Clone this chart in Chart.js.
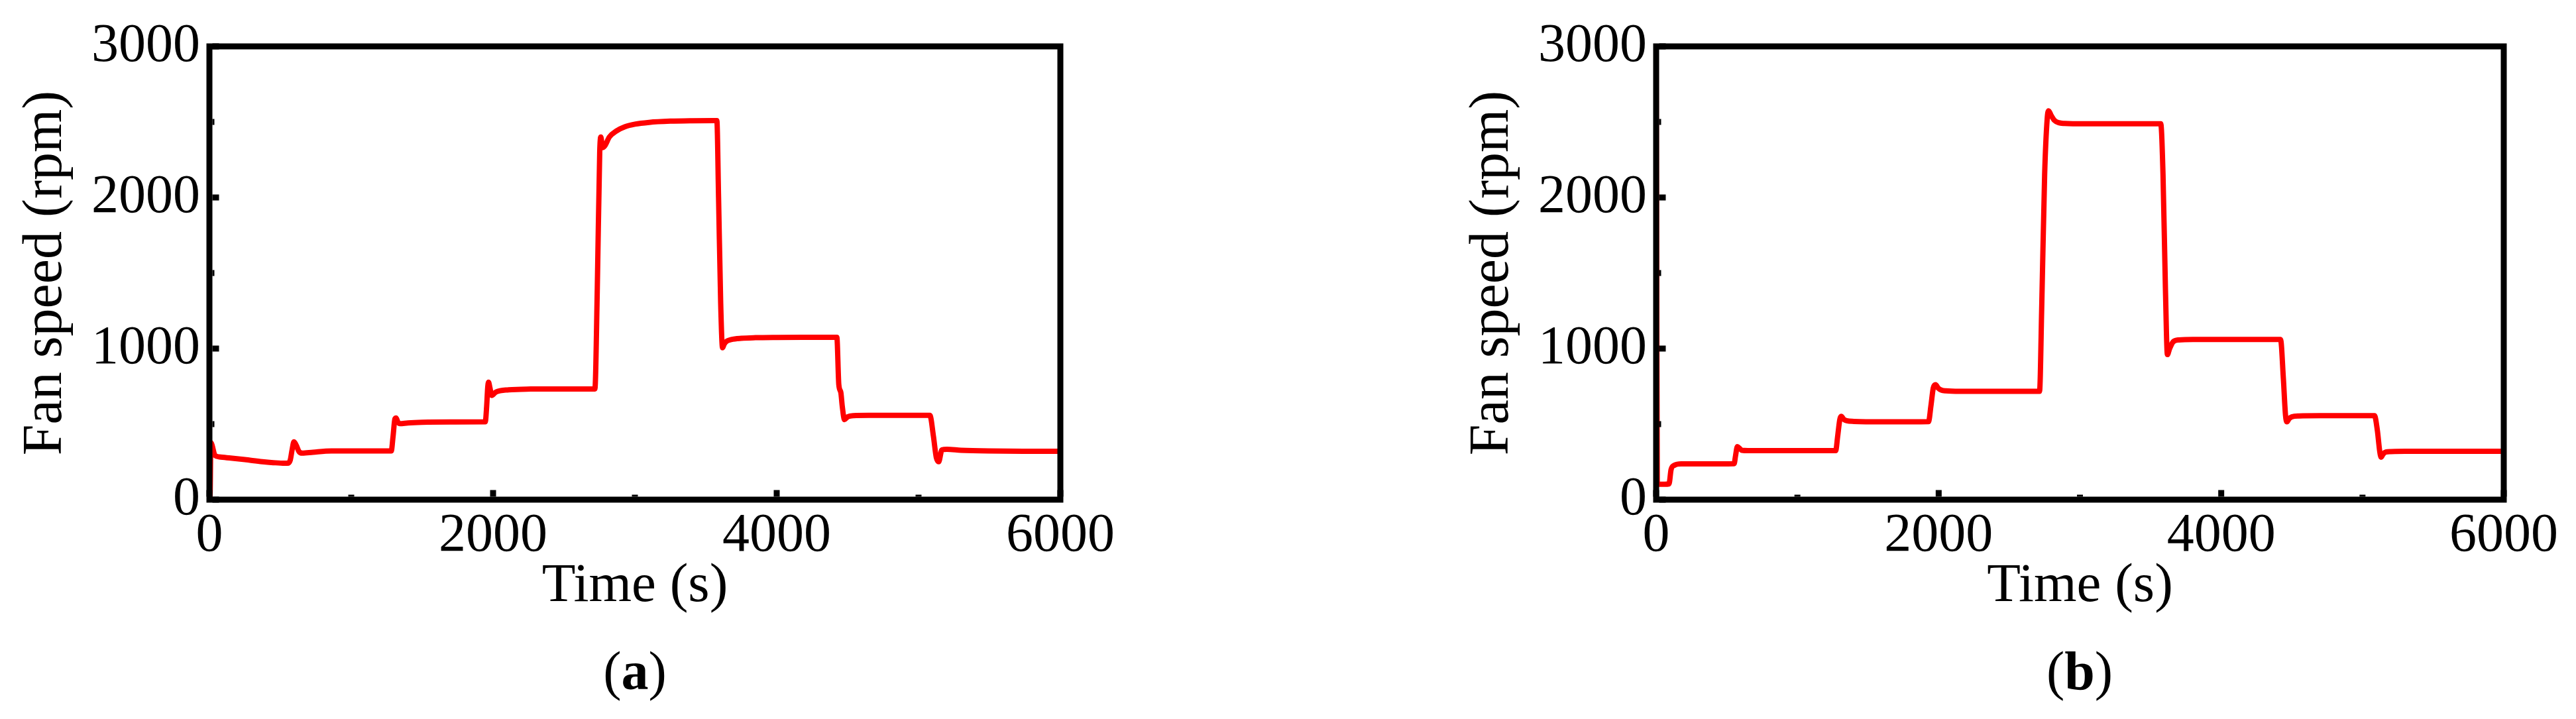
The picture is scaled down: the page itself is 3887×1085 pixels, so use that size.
<!DOCTYPE html>
<html>
<head>
<meta charset="utf-8">
<script src="https://cdn.jsdelivr.net/npm/chart.js@4.4.1/dist/chart.umd.min.js"></script>
<style>
  html, body { margin: 0; padding: 0; background: #fff; overflow: hidden; }
  #wrap { position: relative; width: 3887px; height: 1085px; }
  canvas { position: absolute; top: 0; }
  .cap {
    position: absolute; top: 972px; width: 400px; text-align: center;
    font-family: "Liberation Serif", "Times New Roman", serif;
    font-size: 82px; line-height: 82px; color: #000;
  }
</style>
</head>
<body>
<div id="wrap">
  <canvas id="chartA" width="1943" height="1085" style="left:0px"></canvas>
  <canvas id="chartB" width="1704" height="1085" style="left:2183px"></canvas>
  <div class="cap" style="left:758px">(<b>a</b>)</div>
  <div class="cap" style="left:2938px">(<b>b</b>)</div>
</div>
<script>
// panel (a): fan speed over time
const timeA = [0, 5, 10, 40, 70, 150, 250, 374, 450, 530, 550, 570, 583, 596, 612, 632, 655, 730, 860, 1000,
  1150, 1282, 1295, 1308, 1316, 1328, 1343, 1400, 1500, 1700, 1945, 1955, 1962, 1968, 1978, 1990, 2020, 2110, 2265, 2500,
  2718, 2735, 2752, 2760, 2772, 2790, 2820, 2870, 2930, 3000, 3100, 3250, 3400, 3578, 3590, 3605, 3618, 3630, 3650, 3680,
  3750, 3850, 4000, 4200, 4424, 4438, 4452, 4462, 4478, 4500, 4540, 4650, 4850, 5080, 5105, 5125, 5142, 5165, 5200, 5300,
  5500, 5750, 6000];
const speedA = [0, 40, 377, 292, 283, 275, 265, 251, 245, 241, 241, 262, 330, 383, 360, 318, 308, 314, 322, 322,
  322, 322, 420, 535, 541, 515, 503, 508, 512, 514, 515, 620, 740, 777, 740, 690, 712, 727, 732, 733,
  733, 1400, 2300, 2400, 2330, 2345, 2400, 2440, 2468, 2485, 2497, 2505, 2508, 2509, 2000, 1300, 1005, 1030, 1050, 1060,
  1068, 1072, 1074, 1075, 1075, 760, 710, 620, 530, 548, 556, 558, 558, 558, 420, 280, 251, 330, 333, 327,
  322, 320, 320];

// panel (b)
const timeB = [0, 4, 8, 20, 60, 91, 106, 130, 177, 300, 450, 552, 562, 575, 590, 607, 650, 800, 1000, 1271,
  1285, 1300, 1310, 1330, 1349, 1400, 1600, 1800, 1928, 1945, 1962, 1978, 1995, 2020, 2050, 2150, 2400, 2714, 2730, 2750,
  2768, 2778, 2795, 2820, 2850, 2890, 2950, 3100, 3300, 3572, 3588, 3605, 3619, 3635, 3660, 3700, 3800, 4000, 4200, 4420,
  4440, 4455, 4465, 4480, 4500, 4550, 4700, 4900, 5085, 5105, 5122, 5132, 5145, 5165, 5200, 5300, 5500, 5750, 6000];
const speedB = [3000, 1500, 110, 102, 102, 104, 200, 228, 237, 237, 237, 238, 290, 351, 340, 327, 325, 325, 325, 325,
  420, 530, 551, 530, 522, 518, 515, 515, 516, 620, 740, 761, 740, 725, 720, 717, 717, 717, 1300, 2150,
  2520, 2574, 2545, 2510, 2495, 2490, 2488, 2488, 2488, 2488, 2150, 1400, 960, 1000, 1045, 1057, 1060, 1060, 1060, 1060,
  800, 560, 515, 535, 548, 554, 556, 556, 556, 460, 320, 281, 300, 315, 318, 320, 320, 320, 320];

const xMajor = [0, 2000, 4000, 6000];
const xMinor = [1000, 3000, 5000];
const yMajor = [0, 1000, 2000, 3000];
const yMinor = [500, 1500, 2500];

const serif = "'Liberation Serif', 'Times New Roman', serif";

// box around the plot plus small inward ticks
const framePlugin = {
  id: "frame",
  afterDatasetsDraw(chart) {
    const { ctx, chartArea: a, scales } = chart;
    const half = 4.5;
    ctx.save();
    ctx.strokeStyle = "#000";
    ctx.fillStyle = "#000";
    ctx.lineWidth = 9;
    ctx.lineJoin = "miter";
    ctx.strokeRect(a.left, a.top, a.right - a.left, a.bottom - a.top);
    xMajor.forEach((v) => {
      const px = scales.x.getPixelForValue(v);
      ctx.fillRect(px - half, a.bottom - half - 10, 9, 10);
    });
    xMinor.forEach((v) => {
      const px = scales.x.getPixelForValue(v);
      ctx.fillRect(px - half, a.bottom - half - 3, 9, 3);
    });
    yMajor.forEach((v) => {
      const py = scales.y.getPixelForValue(v);
      ctx.fillRect(a.left + half, py - half, 10, 9);
    });
    yMinor.forEach((v) => {
      const py = scales.y.getPixelForValue(v);
      ctx.fillRect(a.left + half, py - half, 3, 9);
    });
    ctx.restore();
  },
};

function createSpeedChart(canvas, times, speeds, padRight) {
  const points = times.map((t, i) => ({ x: t, y: speeds[i] }));
  return new Chart(canvas, {
    type: "line",
    data: {
      datasets: [
        {
          label: "Fan speed",
          data: points,
          borderColor: "#ff0000",
          borderWidth: 8,
          pointRadius: 0,
          cubicInterpolationMode: "monotone",
          borderJoinStyle: "round",
          borderCapStyle: "round",
          fill: false,
        },
      ],
    },
    options: {
      responsive: false,
      animation: false,
      events: [],
      layout: { padding: { left: 0, top: 70, right: padRight, bottom: 0 } },
      plugins: { legend: { display: false }, tooltip: { enabled: false } },
      scales: {
        x: {
          type: "linear",
          min: 0,
          max: 6000,
          afterFit: (scale) => { scale.height = 331; },
          grid: { display: false, drawTicks: false },
          border: { display: false },
          ticks: {
            stepSize: 2000,
            padding: 6,
            color: "#000",
            maxRotation: 0,
            font: { family: serif, size: 82 },
            callback: (v) => String(v),
          },
          title: {
            display: true,
            text: "Time (s)",
            color: "#000",
            font: { family: serif, size: 83 },
            padding: { top: 0, bottom: 150 },
          },
        },
        y: {
          type: "linear",
          min: 0,
          max: 3000,
          afterFit: (scale) => { scale.width = 316; },
          grid: { display: false, drawTicks: false },
          border: { display: false },
          ticks: {
            stepSize: 1000,
            padding: 14,
            color: "#000",
            font: { family: serif, size: 82 },
            callback: (v) => String(v),
          },
          title: {
            display: true,
            text: "Fan speed (rpm)",
            color: "#000",
            font: { family: serif, size: 84 },
            padding: { top: 20, bottom: 0 },
          },
        },
      },
    },
    plugins: [framePlugin],
  });
}

createSpeedChart(document.getElementById("chartA"), timeA, speedA, 343);
createSpeedChart(document.getElementById("chartB"), timeB, speedB, 109);
</script>
</body>
</html>
